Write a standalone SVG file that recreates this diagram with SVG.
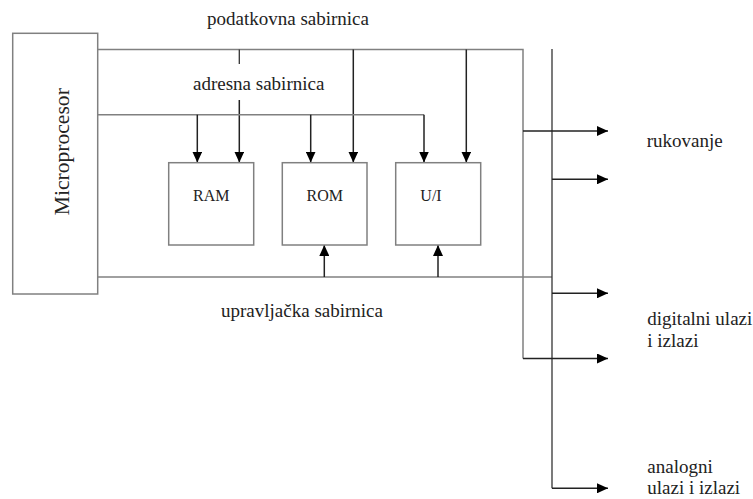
<svg xmlns="http://www.w3.org/2000/svg" width="753" height="499" viewBox="0 0 753 499">
<defs>
<marker id="ah" markerWidth="11" markerHeight="10" refX="11" refY="5" orient="auto" markerUnits="userSpaceOnUse">
<path d="M0,0 L11,5 L0,10 Z" fill="#000"/>
</marker>
<style>
.box{fill:#fff;stroke:#808080;stroke-width:1.5}
.bus{fill:none;stroke:#808080;stroke-width:1.5}
.dk{fill:none;stroke:#333;stroke-width:1.3}
.arr{fill:none;stroke:#222;stroke-width:1.5;marker-end:url(#ah)}
.m{text-anchor:middle}
</style>
</defs>
<rect width="753" height="499" fill="#fff"/>

<g id="connectors">
  <!-- data bus -->
  <path class="bus" d="M98,49.5 H523 V358.5"/>
  <path class="dk" d="M239.3,49.5 V64"/>
  <path class="arr" d="M239.3,100 V162.5"/>
  <path class="arr" d="M353.3,49.5 V162.5"/>
  <path class="arr" d="M466.3,49.5 V162.5"/>
  <!-- address bus -->
  <path class="bus" d="M98,114.7 H424"/>
  <path class="arr" d="M424,114.7 V162.5"/>
  <path class="arr" d="M197.3,114.7 V162.5"/>
  <path class="arr" d="M310.7,114.7 V162.5"/>
  <!-- control bus -->
  <path class="bus" d="M98,277 H552"/>
  <path class="arr" d="M324.3,277 V245"/>
  <path class="arr" d="M438,277 V245"/>
  <!-- I/O bus -->
  <path class="dk" d="M552,49 V488.3"/>
  <path class="arr" d="M523,131 H608"/>
  <path class="arr" d="M552,179.3 H608"/>
  <path class="arr" d="M552,293.3 H608"/>
  <path class="arr" d="M523,358.5 H608"/>
  <path class="arr" d="M552,488.3 H608"/>
</g>

<g font-family="Liberation Serif, Times New Roman, serif" fill="#222">
<g id="microprocesor">
  <rect class="box" x="12.7" y="33.3" width="85" height="260.7"/>
  <text class="m" transform="translate(69,151.7) rotate(-90)" font-size="20" textLength="127" lengthAdjust="spacingAndGlyphs">Microprocesor</text>
</g>
<g id="ram">
  <rect class="box" x="168.7" y="162.7" width="85" height="82.3"/>
  <text class="m" x="211.3" y="201" font-size="16">RAM</text>
</g>
<g id="rom">
  <rect class="box" x="282.3" y="162.7" width="84.7" height="82.3"/>
  <text class="m" x="324.7" y="201" font-size="16">ROM</text>
</g>
<g id="ui">
  <rect class="box" x="395.7" y="162.7" width="85" height="82.3"/>
  <text class="m" x="431" y="201" font-size="16">U/I</text>
</g>

<g id="labels" font-size="19">
  <text class="m" x="288" y="25">podatkovna sabirnica</text>
  <text class="m" x="258.7" y="90">adresna sabirnica</text>
  <text class="m" x="302" y="317">upravljačka sabirnica</text>
  <text x="646.7" y="147">rukovanje</text>
  <text x="647.3" y="325">digitalni ulazi</text>
  <text x="647.3" y="346.7">i izlazi</text>
  <text x="647.3" y="473">analogni</text>
  <text x="647.3" y="494">ulazi i izlazi</text>
</g>
</g>
</svg>
